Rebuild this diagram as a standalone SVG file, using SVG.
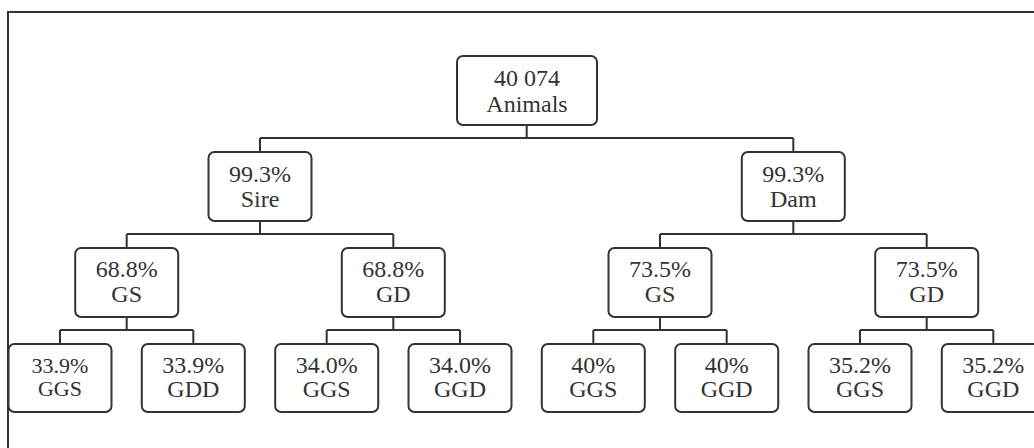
<svg xmlns="http://www.w3.org/2000/svg" width="1034" height="448" viewBox="0 0 1034 448">
<style>
.box{fill:#fff;stroke:#333;stroke-width:2}
.con{fill:none;stroke:#333;stroke-width:2}
.t text{font-size:24px;fill:#333;text-anchor:middle}
.t text.sm{font-size:22px}
</style>
<rect width="1034" height="448" fill="#fff"/>
<rect x="8" y="12" width="1040" height="450" fill="none" stroke="#333" stroke-width="2"/>
<g id="connectors" class="con">
<path d="M526.7 125V138M260 138H793.3M260 138V152M793.3 138V152"/>
<path d="M260 221V234M126.7 234H393.3M126.7 234V248M393.3 234V248"/>
<path d="M793.3 221V234M660 234H926.7M660 234V248M926.7 234V248"/>
<path d="M126.7 317V330M60 330H193.3M60 330V344M193.3 330V344"/>
<path d="M393.3 317V330M326.7 330H460M326.7 330V344M460 330V344"/>
<path d="M660 317V330M593.3 330H726.7M593.3 330V344M726.7 330V344"/>
<path d="M926.7 317V330M860 330H993.3M860 330V344M993.3 330V344"/>
</g>
<g class="t" font-family="'Liberation Serif', 'DejaVu Serif', 'Times New Roman', serif">
<g id="root"><rect class="box" x="457" y="56" width="140" height="69" rx="6"/><text x="527" y="86">40 074</text><text x="527" y="112">Animals</text></g>
<g id="sire"><rect class="box" x="208.5" y="152" width="103" height="69" rx="6"/><text x="260" y="182">99.3%</text><text x="260" y="207">Sire</text></g>
<g id="dam"><rect class="box" x="741.8" y="152" width="103" height="69" rx="6"/><text x="793.3" y="182">99.3%</text><text x="793.3" y="207">Dam</text></g>
<g id="sire-gs"><rect class="box" x="75.2" y="248" width="103" height="69" rx="6"/><text x="126.7" y="277">68.8%</text><text x="126.7" y="302">GS</text></g>
<g id="sire-gd"><rect class="box" x="341.8" y="248" width="103" height="69" rx="6"/><text x="393.3" y="277">68.8%</text><text x="393.3" y="302">GD</text></g>
<g id="dam-gs"><rect class="box" x="608.5" y="248" width="103" height="69" rx="6"/><text x="660" y="277">73.5%</text><text x="660" y="302">GS</text></g>
<g id="dam-gd"><rect class="box" x="875.2" y="248" width="103" height="69" rx="6"/><text x="926.7" y="277">73.5%</text><text x="926.7" y="302">GD</text></g>
<g id="ggs1"><rect class="box" x="8.5" y="344" width="103" height="68" rx="6"/><text class="sm" x="60" y="373">33.9%</text><text class="sm" x="60" y="396">GGS</text></g>
<g id="gdd1"><rect class="box" x="141.8" y="344" width="103" height="68" rx="6"/><text x="193.3" y="373">33.9%</text><text x="193.3" y="397">GDD</text></g>
<g id="ggs2"><rect class="box" x="275.2" y="344" width="103" height="68" rx="6"/><text x="326.7" y="373">34.0%</text><text x="326.7" y="397">GGS</text></g>
<g id="ggd2"><rect class="box" x="408.5" y="344" width="103" height="68" rx="6"/><text x="460" y="373">34.0%</text><text x="460" y="397">GGD</text></g>
<g id="ggs3"><rect class="box" x="541.8" y="344" width="103" height="68" rx="6"/><text x="593.3" y="373">40%</text><text x="593.3" y="397">GGS</text></g>
<g id="ggd3"><rect class="box" x="675.2" y="344" width="103" height="68" rx="6"/><text x="726.7" y="373">40%</text><text x="726.7" y="397">GGD</text></g>
<g id="ggs4"><rect class="box" x="808.5" y="344" width="103" height="68" rx="6"/><text x="860" y="373">35.2%</text><text x="860" y="397">GGS</text></g>
<g id="ggd4"><rect class="box" x="941.8" y="344" width="103" height="68" rx="6"/><text x="993.3" y="373">35.2%</text><text x="993.3" y="397">GGD</text></g>
</g>
</svg>
